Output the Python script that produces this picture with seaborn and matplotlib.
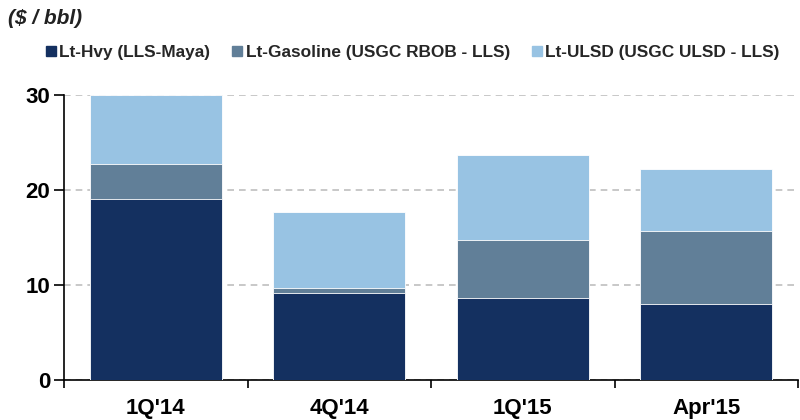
import numpy as np
import pandas as pd
import matplotlib
matplotlib.use("Agg")
import matplotlib.pyplot as plt
from matplotlib.lines import Line2D
import seaborn as sns

categories = ["1Q'14", "4Q'14", "1Q'15", "Apr'15"]
lt_hvy = [19.0, 9.2, 8.6, 8.0]
lt_gasoline = [3.7, 0.5, 6.1, 7.7]
lt_ulsd = [7.3, 7.95, 9.0, 6.5]
series_names = ["Lt-Hvy (LLS-Maya)", "Lt-Gasoline (USGC RBOB - LLS)", "Lt-ULSD (USGC ULSD - LLS)"]
colors = ["#143060", "#617f98", "#98c3e3"]

sns.set_theme(style="white")
plt.rcParams['font.family'] = ['Liberation Sans', 'DejaVu Sans']

fig = plt.figure(figsize=(8, 4.2), dpi=100)
ax = fig.add_axes([0.08, 0.095, 0.9175, 0.679])

c1 = np.array(lt_hvy)
c2 = c1 + np.array(lt_gasoline)
c3 = c2 + np.array(lt_ulsd)

for vals, col in [(c3, colors[2]), (c2, colors[1]), (c1, colors[0])]:
    df = pd.DataFrame({"cat": categories, "val": vals})
    sns.barplot(data=df, x="cat", y="val", color=col, width=0.72,
                saturation=1, edgecolor="white", linewidth=0.6, ax=ax, zorder=3)

ax.set_xlim(-0.5, 3.5)
ax.set_ylim(0, 30)
ax.set_yticks([0, 10, 20, 30])
ax.yaxis.grid(True, linestyle=(0, (4, 3)), color="#bfbfbf", linewidth=1.2, zorder=0)
ax.set_axisbelow(True)
ax.set_xlabel("")
ax.set_ylabel("")

for s in ["top", "right"]:
    ax.spines[s].set_visible(False)
for s in ["left", "bottom"]:
    ax.spines[s].set_color("black")
    ax.spines[s].set_linewidth(1.2)

ax.tick_params(axis="y", which="major", direction="out", length=7, width=1.2,
               color="black", left=True, labelsize=16, pad=3)
ax.tick_params(axis="x", which="major", length=0, labelsize=16, pad=13)
ax.set_xticks(np.arange(-0.5, 4.0, 1.0), minor=True)
ax.tick_params(axis="x", which="minor", direction="out", length=6, width=1.2,
               color="black", bottom=True)
for lbl in ax.get_xticklabels() + ax.get_yticklabels():
    lbl.set_fontweight("bold")
    lbl.set_color("black")

fig.text(0.01, 0.955, "($ / bbl)", fontsize=15, fontweight="bold", fontstyle="italic",
         color="#222222", va="center", ha="left")

handles = [Line2D([0], [0], marker="s", linestyle="", markersize=7,
                  markerfacecolor=c, markeredgecolor=c) for c in colors]
leg = fig.legend(handles, series_names, loc="center left", bbox_to_anchor=(0.058, 0.874),
                 ncol=3, frameon=False, handlelength=0.5, handletextpad=0.25,
                 columnspacing=1.3, borderpad=0, borderaxespad=0,
                 prop={"weight": "bold", "size": 12.4})

fig.savefig("out.png", dpi=100)
